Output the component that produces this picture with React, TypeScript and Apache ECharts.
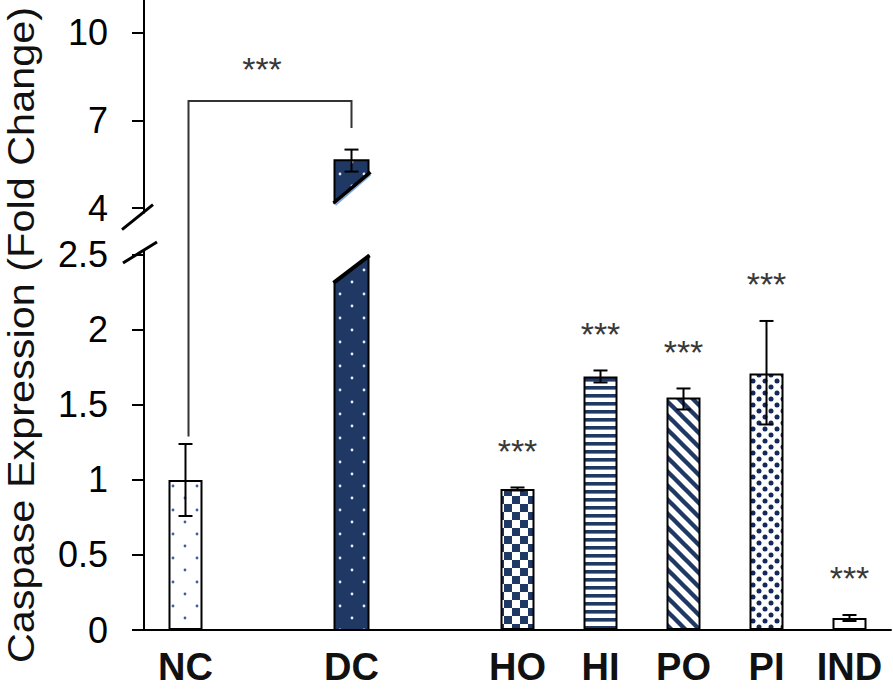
import React, { useEffect, useRef } from 'react';
import * as echarts from 'echarts';

// ---------- data ----------
const categories = ['NC', '', 'DC', '', 'HO', 'HI', 'PO', 'PI', 'IND'];
const means: (number | null)[] = [1.0, null, 5.64, null, 0.94, 1.69, 1.55, 1.71, 0.08];
const errLow: (number | null)[] = [0.76, null, 5.25, null, 0.93, 1.65, 1.47, 1.37, 0.06];
const errHigh: (number | null)[] = [1.24, null, 6.0, null, 0.95, 1.73, 1.61, 2.06, 0.1];
const stars = ['', '', '', '', '***', '***', '***', '***', '***'];
const fills = ['sparseDots', '', 'navyDots', '', 'checker', 'hStripes', 'diagStripes', 'denseDots', 'plain'];
const lowerTicks = [0, 0.5, 1, 1.5, 2, 2.5];
const upperTicks = [4, 7, 10];
const brokenIndex = 2; // DC bar crosses the axis break
const lowerRange = [0, 2.533];
const upperRange = [3.85, 11.1];
const breakCutLower = [2.32, 2.49];
const breakCutUpper = [4.21, 5.2];
const bracket = { from: 0, to: 2, low: 1.29, top: 7.66, high: 6.74, label: '***' };
const yTitle = 'Caspase Expression (Fold Change)';

const NAVY = '#1f3864';
const FONT = "'Liberation Sans', Arial, Helvetica, sans-serif";

function tile(w: number, h: number, draw: (ctx: CanvasRenderingContext2D) => void) {
  const c = document.createElement('canvas');
  c.width = w;
  c.height = h;
  const ctx = c.getContext('2d')!;
  draw(ctx);
  return { image: c.toDataURL(), repeat: 'repeat', imageWidth: w, imageHeight: h } as any;
}

function makePatterns() {
  const dot = (ctx: CanvasRenderingContext2D, x: number, y: number, r: number) => {
    ctx.beginPath();
    ctx.arc(x, y, r, 0, Math.PI * 2);
    ctx.fill();
  };
  return {
    sparseDots: tile(24, 24, (ctx) => {
      ctx.fillStyle = '#fff';
      ctx.fillRect(0, 0, 24, 24);
      ctx.fillStyle = '#3f5f9f';
      dot(ctx, 5, 6, 1.4);
      dot(ctx, 17, 18, 1.4);
    }),
    navyDots: tile(24, 24, (ctx) => {
      ctx.fillStyle = NAVY;
      ctx.fillRect(0, 0, 24, 24);
      ctx.fillStyle = '#e8ecf5';
      dot(ctx, 4, 6, 1.4);
      dot(ctx, 16, 18, 1.4);
    }),
    checker: tile(16, 16, (ctx) => {
      ctx.fillStyle = '#fff';
      ctx.fillRect(0, 0, 16, 16);
      ctx.fillStyle = NAVY;
      ctx.fillRect(0, 0, 8, 8);
      ctx.fillRect(8, 8, 8, 8);
    }),
    hStripes: tile(8, 8, (ctx) => {
      ctx.fillStyle = '#fff';
      ctx.fillRect(0, 0, 8, 8);
      ctx.fillStyle = NAVY;
      ctx.fillRect(0, 2, 8, 3.6);
    }),
    diagStripes: tile(14, 14, (ctx) => {
      ctx.fillStyle = '#fff';
      ctx.fillRect(0, 0, 14, 14);
      ctx.strokeStyle = NAVY;
      ctx.lineWidth = 4.4;
      for (const k of [-14, 0, 14]) {
        ctx.beginPath();
        ctx.moveTo(k - 3, -3);
        ctx.lineTo(k + 17, 17);
        ctx.stroke();
      }
    }),
    denseDots: tile(12, 12, (ctx) => {
      ctx.fillStyle = '#fff';
      ctx.fillRect(0, 0, 12, 12);
      ctx.fillStyle = '#14295a';
      dot(ctx, 3, 3, 2.5);
      dot(ctx, 9, 9, 2.5);
    }),
    plain: '#ffffff',
  } as Record<string, any>;
}

export default function App() {
  const ref = useRef<HTMLDivElement>(null);

  useEffect(() => {
    if (!ref.current) return;
    const chart = echarts.init(ref.current, undefined, { renderer: 'svg' });
    const pats = makePatterns();

    const barData = means.map((v, i) =>
      v == null || i === brokenIndex ? '-' : { value: v, itemStyle: { color: pats[fills[i]] } }
    );
    const errRowsLower: any[] = [];
    const errRowsUpper: any[] = [];
    means.forEach((v, i) => {
      if (v == null) return;
      const row = [i, errLow[i], errHigh[i]];
      if (i === brokenIndex) errRowsUpper.push(row);
      else errRowsLower.push(row);
    });

    const halfW = 17;
    const lineStyle = { stroke: '#000', lineWidth: 2 };

    const errRender = (params: any, api: any) => {
      const x = api.value(0);
      const lo = api.coord([x, api.value(1)]);
      const hi = api.coord([x, api.value(2)]);
      const cap = 7;
      const children: any[] = [
        { type: 'line', shape: { x1: lo[0], y1: lo[1], x2: hi[0], y2: hi[1] }, style: lineStyle },
        { type: 'line', shape: { x1: hi[0] - cap, y1: hi[1], x2: hi[0] + cap, y2: hi[1] }, style: lineStyle },
        { type: 'line', shape: { x1: lo[0] - cap, y1: lo[1], x2: lo[0] + cap, y2: lo[1] }, style: lineStyle },
      ];
      const s = stars[x];
      if (s) {
        children.push({
          type: 'text',
          x: hi[0],
          y: hi[1] - 36.5,
          style: { text: s, fill: '#383838', fontSize: 34, fontFamily: FONT, align: 'center', verticalAlign: 'middle' },
        });
      }
      return { type: 'group', children };
    };

    const option: any = {
      animation: false,
      backgroundColor: '#ffffff',
      grid: [
        { left: 144, right: 2, top: 0, height: (upperRange[1] - upperRange[0]) * 29.33 },
        { left: 144, right: 2, top: 250, bottom: 60 },
      ],
      xAxis: [
        { type: 'category', gridIndex: 0, data: categories, show: false },
        {
          type: 'category',
          gridIndex: 1,
          data: categories,
          axisLine: { lineStyle: { color: '#000', width: 2 } },
          axisTick: { show: false },
          axisLabel: { fontSize: 38, fontWeight: 'bold', color: '#111', fontFamily: FONT, margin: 18, interval: 0 },
        },
      ],
      yAxis: [
        {
          type: 'value',
          gridIndex: 0,
          min: upperRange[0],
          max: upperRange[1],
          splitLine: { show: false },
          axisLine: { show: true, lineStyle: { color: '#000', width: 2 } },
          axisTick: { show: true, length: 12, customValues: upperTicks, lineStyle: { color: '#000', width: 2 } },
          axisLabel: { customValues: upperTicks, fontSize: 36, color: '#000', fontFamily: FONT, margin: 36 },
        },
        {
          type: 'value',
          gridIndex: 1,
          min: lowerRange[0],
          max: lowerRange[1],
          splitLine: { show: false },
          axisLine: { show: true, lineStyle: { color: '#000', width: 2 } },
          axisTick: { show: true, length: 12, customValues: lowerTicks, lineStyle: { color: '#000', width: 2 } },
          axisLabel: { customValues: lowerTicks, fontSize: 36, color: '#000', fontFamily: FONT, margin: 36 },
        },
      ],
      series: [
        {
          type: 'bar',
          xAxisIndex: 1,
          yAxisIndex: 1,
          barWidth: 34,
          data: barData,
          itemStyle: { borderColor: '#000', borderWidth: 2 },
          z: 2,
        },
        {
          // lower piece of the broken DC bar
          type: 'custom',
          xAxisIndex: 1,
          yAxisIndex: 1,
          z: 3,
          data: [[brokenIndex, 0, breakCutLower[0], breakCutLower[1]]],
          renderItem: (params: any, api: any) => {
            const x = api.value(0);
            const b = api.coord([x, api.value(1)]);
            const l = api.coord([x, api.value(2)]);
            const r = api.coord([x, api.value(3)]);
            const cx = b[0];
            return {
              type: 'group',
              children: [
                {
                  type: 'polygon',
                  shape: { points: [[cx - halfW, b[1]], [cx + halfW, b[1]], [cx + halfW, r[1]], [cx - halfW, l[1]]] },
                  style: { fill: pats[fills[x]], stroke: '#000', lineWidth: 2 },
                },
                {
                  type: 'line',
                  shape: { x1: cx - halfW - 1, y1: l[1] + 1, x2: cx + halfW + 1, y2: r[1] - 1 },
                  style: { stroke: '#000', lineWidth: 4 },
                },
              ],
            };
          },
        },
        {
          // upper piece of the broken DC bar
          type: 'custom',
          xAxisIndex: 0,
          yAxisIndex: 0,
          z: 3,
          data: [[brokenIndex, breakCutUpper[0], breakCutUpper[1], means[brokenIndex]]],
          renderItem: (params: any, api: any) => {
            const x = api.value(0);
            const l = api.coord([x, api.value(1)]);
            const r = api.coord([x, api.value(2)]);
            const t = api.coord([x, api.value(3)]);
            const cx = t[0];
            return {
              type: 'group',
              children: [
                {
                  type: 'polygon',
                  shape: { points: [[cx - halfW, t[1]], [cx + halfW, t[1]], [cx + halfW, r[1]], [cx - halfW, l[1]]] },
                  style: { fill: pats[fills[x]], stroke: '#000', lineWidth: 2 },
                },
                {
                  type: 'line',
                  shape: { x1: cx - halfW + 1, y1: l[1] + 3, x2: cx + halfW + 2, y2: r[1] + 2 },
                  style: { stroke: '#7fa6e0', lineWidth: 1.5 },
                },
                {
                  type: 'line',
                  shape: { x1: cx - halfW - 1, y1: l[1] + 1, x2: cx + halfW + 2, y2: r[1] - 1 },
                  style: { stroke: '#000', lineWidth: 3.5 },
                },
              ],
            };
          },
        },
        {
          type: 'custom',
          xAxisIndex: 1,
          yAxisIndex: 1,
          z: 5,
          data: errRowsLower,
          renderItem: errRender,
        },
        {
          type: 'custom',
          xAxisIndex: 0,
          yAxisIndex: 0,
          z: 5,
          data: errRowsUpper,
          renderItem: errRender,
        },
      ],
    };

    chart.setOption(option);

    // Significance bracket + title + axis break marks
    const pLow = chart.convertToPixel({ gridIndex: 1 } as any, [bracket.from, bracket.low]) as number[];
    const pTop = chart.convertToPixel({ gridIndex: 0 } as any, [bracket.from, bracket.top]) as number[];
    const pHigh = chart.convertToPixel({ gridIndex: 0 } as any, [bracket.to, bracket.high]) as number[];
    const upperBottom = chart.convertToPixel({ gridIndex: 0 } as any, [0, upperRange[0]]) as number[];
    const lowerTop = chart.convertToPixel({ gridIndex: 1 } as any, [0, lowerRange[1]]) as number[];
    const axisX = 144;
    const leftX = pLow[0] + 3;

    chart.setOption({
      graphic: [
        {
          type: 'polyline',
          z: 10,
          shape: {
            points: [
              [leftX, pLow[1]],
              [leftX, pTop[1]],
              [pHigh[0], pTop[1]],
              [pHigh[0], pHigh[1]],
            ],
          },
          style: { stroke: '#333', lineWidth: 2, fill: null },
        },
        {
          type: 'text',
          z: 10,
          x: (leftX + pHigh[0]) / 2 - 8,
          y: pTop[1] - 31.5,
          style: { text: bracket.label, fill: '#383838', fontSize: 34, fontFamily: FONT, align: 'center', verticalAlign: 'middle' },
        },
        {
          type: 'text',
          z: 10,
          x: 21,
          y: 335,
          rotation: Math.PI / 2,
          scaleX: 1.12,
          style: { text: yTitle, fill: '#111', fontSize: 37, fontFamily: FONT, align: 'center', verticalAlign: 'middle' },
        },
        {
          type: 'line',
          z: 10,
          shape: { x1: axisX - 22, y1: upperBottom[1] + 17, x2: axisX + 9, y2: upperBottom[1] - 8 },
          style: { stroke: '#000', lineWidth: 3 },
        },
        {
          type: 'line',
          z: 10,
          shape: { x1: axisX - 21, y1: lowerTop[1] + 13, x2: axisX + 13, y2: lowerTop[1] - 8 },
          style: { stroke: '#000', lineWidth: 3 },
        },
      ],
    });

    return () => chart.dispose();
  }, []);

  return (
    <div
      ref={ref}
      style={{ position: 'fixed', left: 0, top: 0, width: 893, height: 690, background: '#fff' }}
    />
  );
}
